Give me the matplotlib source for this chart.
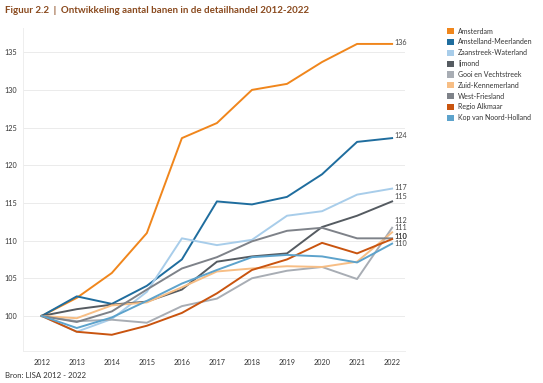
import matplotlib
matplotlib.use("Agg")
import matplotlib.pyplot as plt
from matplotlib.patches import Patch

plt.rcParams['font.family'] = ['Lato', 'DejaVu Sans']

years = [2012, 2013, 2014, 2015, 2016, 2017, 2018, 2019, 2020, 2021, 2022]

amsterdam = [100, 102.4, 105.7, 111.0, 123.6, 125.6, 130.0, 130.8, 133.7, 136.1, 136.1]
amstelland = [100, 102.6, 101.6, 104.0, 107.5, 115.2, 114.8, 115.8, 118.8, 123.1, 123.6]
zaanstreek = [100, 97.9, 99.6, 103.2, 110.3, 109.4, 110.1, 113.3, 113.9, 116.1, 116.9]
ijmond = [100, 100.9, 101.5, 101.9, 103.5, 107.2, 107.9, 108.3, 111.8, 113.3, 115.2]
gooi = [100, 99.3, 99.5, 99.1, 101.3, 102.3, 105.0, 106.0, 106.5, 104.9, 111.7]
zuid_kennemerland = [100, 99.7, 101.4, 101.8, 103.8, 105.9, 106.3, 106.6, 106.5, 107.2, 111.1]
west_friesland = [100, 99.2, 100.6, 103.5, 106.3, 107.8, 109.9, 111.3, 111.7, 110.3, 110.3]
regio_alkmaar = [100, 97.9, 97.5, 98.7, 100.4, 103.0, 106.1, 107.5, 109.7, 108.3, 110.2]
kop_nh = [100, 98.4, 99.8, 102.0, 104.3, 106.1, 107.8, 108.1, 107.9, 107.1, 109.6]

names = ["Amsterdam", "Amstelland-Meerlanden", "Zaanstreek-Waterland", "Ijmond",
         "Gooi en Vechtstreek", "Zuid-Kennemerland", "West-Friesland",
         "Regio Alkmaar", "Kop van Noord-Holland"]
series = [amsterdam, amstelland, zaanstreek, ijmond, gooi, zuid_kennemerland,
          west_friesland, regio_alkmaar, kop_nh]
end_labels = ["136", "124", "117", "115", "112", "111", "110", "110", "110"]

colors = ["#F0861C", "#1F6D9E", "#A8CDEA", "#555B61", "#A8ADB4",
          "#F7BE85", "#7E8289", "#C9540F", "#5DA3CC"]
# small vertical nudges so the end labels don't collide
label_dy = [0.2, 0.3, 0.1, 0.7, 1.0, 0.6, 0.2, 0.3, 0.0]

fig = plt.figure(figsize=(5.43, 3.83), dpi=100)
ax = fig.add_axes([0.042, 0.0836, 0.704, 0.843])

for vals, c in zip(series, colors):
    ax.plot(years, vals, color=c, lw=1.4, solid_joinstyle='round')

for vals, lab, dy in zip(series, end_labels, label_dy):
    ax.text(years[-1] + 0.08, vals[-1] + dy, lab, fontsize=5.2, color="#444444",
            va='center', ha='left')

ax.set_xlim(2011.46, 2022.37)
ax.set_ylim(95.35, 138.2)
ax.set_xticks(years)
ax.set_yticks(range(100, 136, 5))
ax.tick_params(axis='both', length=0, labelsize=5.2, labelcolor="#333333")
ax.tick_params(axis='x', pad=6)
ax.tick_params(axis='y', pad=4)
ax.grid(axis='y', color="#EBEBEB", lw=0.7)
ax.set_axisbelow(True)
for s in ['top', 'right']:
    ax.spines[s].set_visible(False)
for s in ['left', 'bottom']:
    ax.spines[s].set_color("#EEEEEE")
    ax.spines[s].set_linewidth(0.7)

handles = [Patch(facecolor=c, edgecolor='none') for c in colors]
fig.legend(handles, names, loc='upper left', bbox_to_anchor=(0.818, 0.935),
           frameon=False, fontsize=5.0, handlelength=1.0, handleheight=1.0,
           handletextpad=0.6, labelspacing=0.55, borderaxespad=0,
           labelcolor="#333333")

fig.text(0.009, 0.972, "Figuur 2.2  |  Ontwikkeling aantal banen in de detailhandel 2012-2022",
         fontsize=7.0, fontweight='bold', color="#8A4A1E", va='center', ha='left')
fig.text(0.009, 0.02, "Bron: LISA 2012 - 2022", fontsize=5.6, color="#333333",
         va='center', ha='left')

fig.savefig("out.png", dpi=100)
